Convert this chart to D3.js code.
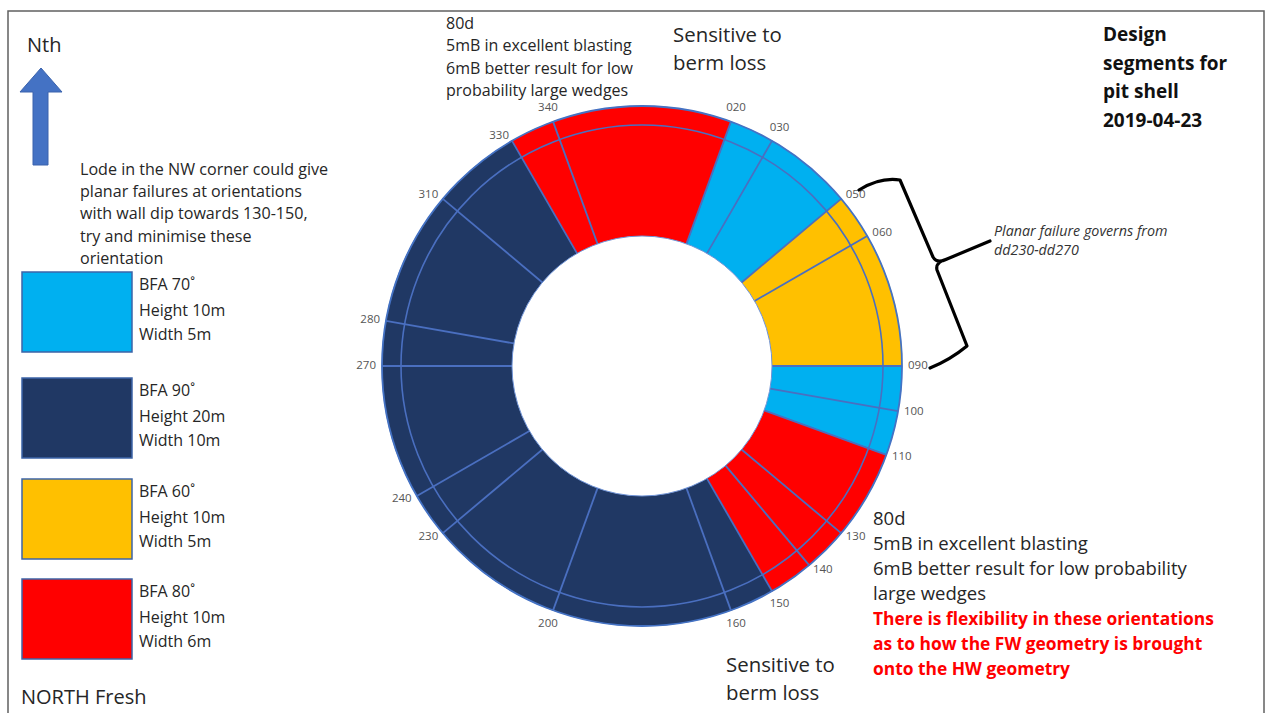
<!DOCTYPE html>
<html>
<head>
<meta charset="utf-8">
<script src="https://cdn.jsdelivr.net/npm/d3@7"></script>
<style>
  html, body { margin: 0; padding: 0; background: #fff; }
  svg { display: block; font-family: "Open Sans", Lato, sans-serif; }
</style>
</head>
<body>
<svg id="chart" width="1266" height="713"></svg>
<script>
// ---------------- DATA ----------------
// Sector boundaries (dip direction, degrees clockwise from north)
const boundaries = [20, 30, 50, 60, 90, 100, 110, 130, 140, 150, 160, 200, 230, 240, 270, 280, 310, 330, 340];
// Design category of the sector that starts at each boundary (runs to the next boundary)
const sectorCategory = ["BFA70", "BFA70", "BFA60", "BFA60", "BFA70", "BFA70", "BFA80", "BFA80", "BFA80",
                        "BFA90", "BFA90", "BFA90", "BFA90", "BFA90", "BFA90", "BFA90", "BFA90", "BFA80", "BFA80"];
// Boundary tick labels
const tickLabels = ["020", "030", "050", "060", "090", "100", "110", "130", "140", "150", "160", "200", "230", "240", "270", "280", "310", "330", "340"];

// Legend
const legendKeys = ["BFA70", "BFA90", "BFA60", "BFA80"];
const legendColors = ["#00B0F0", "#203864", "#FFC000", "#FF0000"];
const legendBFA = ["BFA 70˚", "BFA 90˚", "BFA 60˚", "BFA 80˚"];
const legendHeight = ["Height 10m", "Height 20m", "Height 10m", "Height 10m"];
const legendWidth = ["Width 5m", "Width 10m", "Width 5m", "Width 6m"];

// Annotation texts
const lodeNote = ["Lode in the NW corner could give", "planar failures at orientations",
                  "with wall dip towards 130-150,", "try and minimise these", "orientation"];
const topNote = ["80d", "5mB in excellent blasting", "6mB better result for low", "probability large wedges"];
const sensitiveNote = ["Sensitive to", "berm loss"];
const titleLines = ["Design", "segments for", "pit shell", "2019-04-23"];
const planarNote = ["Planar failure governs from", "dd230-dd270"];
const bottomNote = ["80d", "5mB in excellent blasting", "6mB better result for low probability", "large wedges"];
const flexNote = ["There is flexibility in these orientations", "as to how the FW geometry is brought", "onto the HW geometry"];

// ---------------- DRAW ----------------
const svg = d3.select("#chart");

// frame
svg.append("rect").attr("x", 8).attr("y", 11).attr("width", 1256).attr("height", 720)
  .attr("fill", "none").attr("stroke", "#606060").attr("stroke-width", 1.5);

const cx = 642, cy = 366;
const rOuter = 260, rMid = 241, rInner = 130;

const color = d3.scaleOrdinal().domain(legendKeys).range(legendColors);
const ang = d3.scaleLinear().domain([0, 360]).range([0, 2 * Math.PI]);

const sectors = boundaries.map((b, i) => {
  let end = boundaries[(i + 1) % boundaries.length];
  if (end <= b) end += 360;
  return { start: b, end: end, cat: sectorCategory[i] };
});

const g = svg.append("g").attr("transform", `translate(${cx},${cy})`);
const arc = d3.arc().innerRadius(rInner).outerRadius(rOuter);

g.selectAll("path.sector").data(sectors).join("path")
  .attr("class", "sector")
  .attr("d", d => arc({ startAngle: ang(d.start), endAngle: ang(d.end) }))
  .attr("fill", d => color(d.cat))
  .attr("stroke", d => color(d.cat))
  .attr("stroke-width", 0.6);

function polar(deg, r) {
  const a = ang(deg);
  return [r * Math.sin(a), -r * Math.cos(a)];
}
// spokes at each boundary
g.selectAll("line.spoke").data(boundaries).join("line")
  .attr("class", "spoke")
  .attr("x1", d => polar(d, rInner)[0]).attr("y1", d => polar(d, rInner)[1])
  .attr("x2", d => polar(d, rOuter)[0]).attr("y2", d => polar(d, rOuter)[1])
  .attr("stroke", "#4a6fc0").attr("stroke-width", 1.8);

// mid ring and outline circles
g.append("circle").attr("r", rMid).attr("fill", "none").attr("stroke", "#4a6fc0").attr("stroke-width", 1.6);
g.append("circle").attr("r", rOuter).attr("fill", "none").attr("stroke", "#4472C4").attr("stroke-width", 1.8);
g.append("circle").attr("r", rInner).attr("fill", "#fff").attr("stroke", "#6f93d6").attr("stroke-width", 1);

// tick labels
g.selectAll("text.tick").data(boundaries).join("text")
  .attr("class", "tick")
  .each(function (d, i) {
    const s = Math.sin(ang(d));
    let anchor = "middle", r = rOuter + 15;
    if (s > 0.5) { anchor = "start"; r = rOuter + 6; }
    else if (s < -0.5) { anchor = "end"; r = rOuter + 6; }
    const p = polar(d, r);
    d3.select(this).attr("x", p[0]).attr("y", p[1]).attr("text-anchor", anchor)
      .attr("dominant-baseline", "middle").text(tickLabels[i]);
  })
  .attr("font-size", 11.5).attr("fill", "#555");

// ---- North arrow ----
svg.append("text").attr("x", 27).attr("y", 52).attr("font-size", 20).attr("fill", "#262626").text("Nth");
svg.append("path")
  .attr("d", "M33,165 L33,92 L20,92 L41,68 L62,92 L48,92 L48,165 Z")
  .attr("fill", "#4472C4").attr("stroke", "#3a62ad").attr("stroke-width", 1);

// ---- lode note ----
svg.append("g").selectAll("text").data(lodeNote).join("text")
  .attr("x", 80).attr("y", (d, i) => 175 + i * 22.2)
  .attr("font-size", 16.1).attr("fill", "#262626").text(d => d);

// ---- legend ----
const leg = svg.append("g").selectAll("g").data(legendKeys).join("g")
  .attr("transform", (d, i) => `translate(22,${[272, 378, 479, 579][i]})`);
leg.append("rect").attr("width", 110).attr("height", 80)
  .attr("fill", d => color(d)).attr("stroke", "#3c64a8").attr("stroke-width", 1.5);
leg.append("text").attr("x", 117).attr("y", 18).attr("font-size", 16).attr("fill", "#262626").text((d, i) => legendBFA[i]);
leg.append("text").attr("x", 117).attr("y", 44).attr("font-size", 16).attr("fill", "#262626").text((d, i) => legendHeight[i]);
leg.append("text").attr("x", 117).attr("y", 68).attr("font-size", 16).attr("fill", "#262626").text((d, i) => legendWidth[i]);

svg.append("text").attr("x", 21).attr("y", 704).attr("font-size", 20).attr("fill", "#262626").text("NORTH Fresh");

// ---- top note ----
svg.append("g").selectAll("text").data(topNote).join("text")
  .attr("x", 446).attr("y", (d, i) => 29 + i * 22.3)
  .attr("font-size", 16).attr("fill", "#262626").text(d => d);

// sensitive notes
svg.append("g").selectAll("text").data(sensitiveNote).join("text")
  .attr("x", 673).attr("y", (d, i) => 42 + i * 28)
  .attr("font-size", 20.4).attr("fill", "#262626").text(d => d);
svg.append("g").selectAll("text").data(sensitiveNote).join("text")
  .attr("x", 726).attr("y", (d, i) => 672 + i * 28)
  .attr("font-size", 20.4).attr("fill", "#262626").text(d => d);

// title
svg.append("g").selectAll("text").data(titleLines).join("text")
  .attr("x", 1103).attr("y", (d, i) => 41 + i * 28.5)
  .attr("font-size", 19).attr("font-weight", "bold").attr("fill", "#111").text(d => d);

// ---- bracket ----
svg.append("path")
  .attr("d", "M859,190 Q880,177 900,180 L933,257 Q937,264 947,259 L990,241 M947,259 Q935,262 937,270 L967,346 Q950,360 930,368")
  .attr("fill", "none").attr("stroke", "#000").attr("stroke-width", 3.2).attr("stroke-linejoin", "round").attr("stroke-linecap", "round");

svg.append("g").selectAll("text").data(planarNote).join("text")
  .attr("x", 994).attr("y", (d, i) => 236 + i * 19)
  .attr("font-size", 14.3).attr("font-style", "italic").attr("fill", "#333").text(d => d);

// ---- bottom-right notes ----
svg.append("g").selectAll("text").data(bottomNote).join("text")
  .attr("x", 873).attr("y", (d, i) => 525 + i * 25)
  .attr("font-size", 18.5).attr("fill", "#262626").text(d => d);
svg.append("g").selectAll("text").data(flexNote).join("text")
  .attr("x", 873).attr("y", (d, i) => 625 + i * 25)
  .attr("font-size", 17.4).attr("font-weight", "bold").attr("fill", "#FF0000").text(d => d);
</script>
</body>
</html>
